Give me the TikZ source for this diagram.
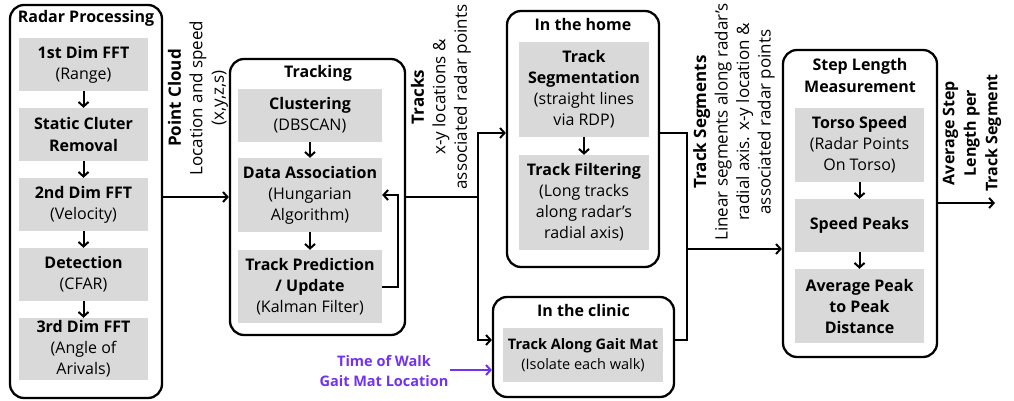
\documentclass[tikz,border=0pt]{standalone}
\usepackage{fontspec}
\setmainfont{Open Sans}
\usetikzlibrary{arrows.meta}
\definecolor{boxgray}{HTML}{D9D9D9}
\definecolor{walkpurple}{HTML}{7232F2}
\begin{document}
\begin{tikzpicture}[x=1pt,y=-1pt,
  outerbox/.style={draw,line width=2.3pt,rounded corners=14pt,inner sep=0pt},
  graybox/.style={fill=boxgray,inner sep=0pt,align=center,font=\fontsize{16}{21}\selectfont},
  boxtitle/.style={inner sep=0pt,align=center,font=\bfseries\fontsize{16}{22}\selectfont},
  wire/.style={line width=2pt},
  conn/.style={line width=2pt,-{Straight Barb[length=4.5pt,width=10pt]}},
  sidelbl/.style={rotate=90,align=center,inner sep=0pt,font=\fontsize{17}{21.5}\selectfont}
]
\useasboundingbox (0,0) rectangle (1014,401);

% outer boxes
\node[outerbox,minimum width=152pt,minimum height=393pt] (radar) at (86,201.5) {};
\node[boxtitle] (radart) at (86,18) {Radar Processing};
\node[outerbox,minimum width=175pt,minimum height=276pt] (tracking) at (317.5,197) {};
\node[boxtitle] (trackt) at (318,73) {Tracking};
\node[outerbox,minimum width=152pt,minimum height=256pt] (home) at (583,139) {};
\node[boxtitle] (homet) at (583,25) {In the home};
\node[outerbox,minimum width=181pt,minimum height=100pt] (clinic) at (583.5,347) {};
\node[boxtitle] (clinict) at (583.5,310) {In the clinic};
\node[outerbox,minimum width=154pt,minimum height=307pt] (step) at (860,203.5) {};
\node[boxtitle] (stept) at (860,76) {Step Length\\Measurement};

% radar processing steps
\node[graybox,minimum width=129pt,minimum height=53pt] (r1) at (83.5,64.5) {\textbf{1st Dim FFT}\\(Range)};
\node[graybox,minimum width=129pt,minimum height=53pt] (r2) at (83.5,134.5) {\textbf{Static Cluter}\\\textbf{Removal}};
\node[graybox,minimum width=129pt,minimum height=53pt] (r3) at (83.5,204.5) {\textbf{2nd Dim FFT}\\(Velocity)};
\node[graybox,minimum width=129pt,minimum height=53pt] (r4) at (83.5,274.5) {\textbf{Detection}\\(CFAR)};
\node[graybox,minimum width=129pt,minimum height=62pt] (r5) at (83.5,349) {\textbf{3rd Dim FFT}\\(Angle of\\Arivals)};

% tracking steps
\node[graybox,minimum width=144pt,minimum height=53pt] (t1) at (310,115.5) {\textbf{Clustering}\\(DBSCAN)};
\node[graybox,minimum width=144pt,minimum height=74pt] (t2) at (310,195) {\textbf{Data Association}\\(Hungarian\\Algorithm)};
\node[graybox,minimum width=144pt,minimum height=73pt] (t3) at (310,286.5) {\textbf{Track Prediction}\\\textbf{/ Update}\\(Kalman Filter)};

% home steps
\node[graybox,minimum width=130pt,minimum height=95pt] (h1) at (584,89.5) {\textbf{Track}\\\textbf{Segmentation}\\(straight lines\\via RDP)};
\node[graybox,minimum width=130pt,minimum height=95pt] (h2) at (584,202.5) {\textbf{Track Filtering}\\(Long tracks\\along radar’s\\radial axis)};

% clinic step
\node[graybox,minimum width=160pt,minimum height=54pt,font=\fontsize{14.5}{20}\selectfont] (c1) at (583,355) {\textbf{Track Along Gait Mat}\\(Isolate each walk)};

% step length steps
\node[graybox,minimum width=129pt,minimum height=74pt] (s1) at (859.5,145) {\textbf{Torso Speed}\\(Radar Points\\On Torso)};
\node[graybox,minimum width=129pt,minimum height=53pt] (s2) at (859.5,225.5) {\textbf{Speed Peaks}};
\node[graybox,minimum width=129pt,minimum height=74pt] (s3) at (859.5,306) {\textbf{Average Peak}\\\textbf{to Peak}\\\textbf{Distance}};

% inner arrows
\draw[conn] (r1) -- (r2);
\draw[conn] (r2) -- (r3);
\draw[conn] (r3) -- (r4);
\draw[conn] (r4) -- (r5);
\draw[conn] (t1) -- (t2);
\draw[conn] (t2) -- (t3);
\draw[conn] (t3.east) -- ++(16,0) |- (t2.east);
\draw[conn] (h1) -- (h2);
\draw[conn] (s1) -- (s2);
\draw[conn] (s2) -- (s3);

% coordinates for connectors
\coordinate (mid) at (478,197);
\coordinate (hy) at (0,133);
\coordinate (cy) at (0,340);
\coordinate (rx) at (687,0);
\coordinate (sy) at (0,249);
\coordinate (outend) at (995,203);
\coordinate (wstart) at (450,370);

% connectors between stages
\draw[conn] (radar.east |- mid) -- (tracking.west |- mid);
\draw[wire] (tracking.east |- mid) -- (mid);
\draw[conn] (mid) |- (home.west |- hy);
\draw[conn] (mid) |- (clinic.west |- cy);
\draw[wire] (home.east |- hy) -| (rx |- cy) -- (clinic.east |- cy);
\draw[conn] (rx |- sy) -- (step.west |- sy);
\draw[conn] (step.east |- outend) -- (outend);

% side labels
\node[sidelbl] (pc) at (198,98) {\textbf{Point Cloud}\\Location and speed\\(x,y,z,s)};
\node[sidelbl] (tr) at (441,97) {\textbf{Tracks}\\x-y locations \&\\associated radar points};
\node[sidelbl] (ts) at (734,122) {\textbf{Track Segments}\\Linear segments along radar’s\\radial axis. x-y location \&\\associated radar points};
\node[sidelbl,font=\bfseries\fontsize{16}{21.5}\selectfont] (av) at (972,133) {Average Step\\Length per\\Track Segment};

% purple input
\node[align=center,inner sep=0pt,text=walkpurple,font=\bfseries\fontsize{14.5}{20}\selectfont] (walk) at (384,371) {Time of Walk\\Gait Mat Location};
\draw[conn,walkpurple] (wstart) -- (clinic.west |- wstart);
\end{tikzpicture}
\end{document}
